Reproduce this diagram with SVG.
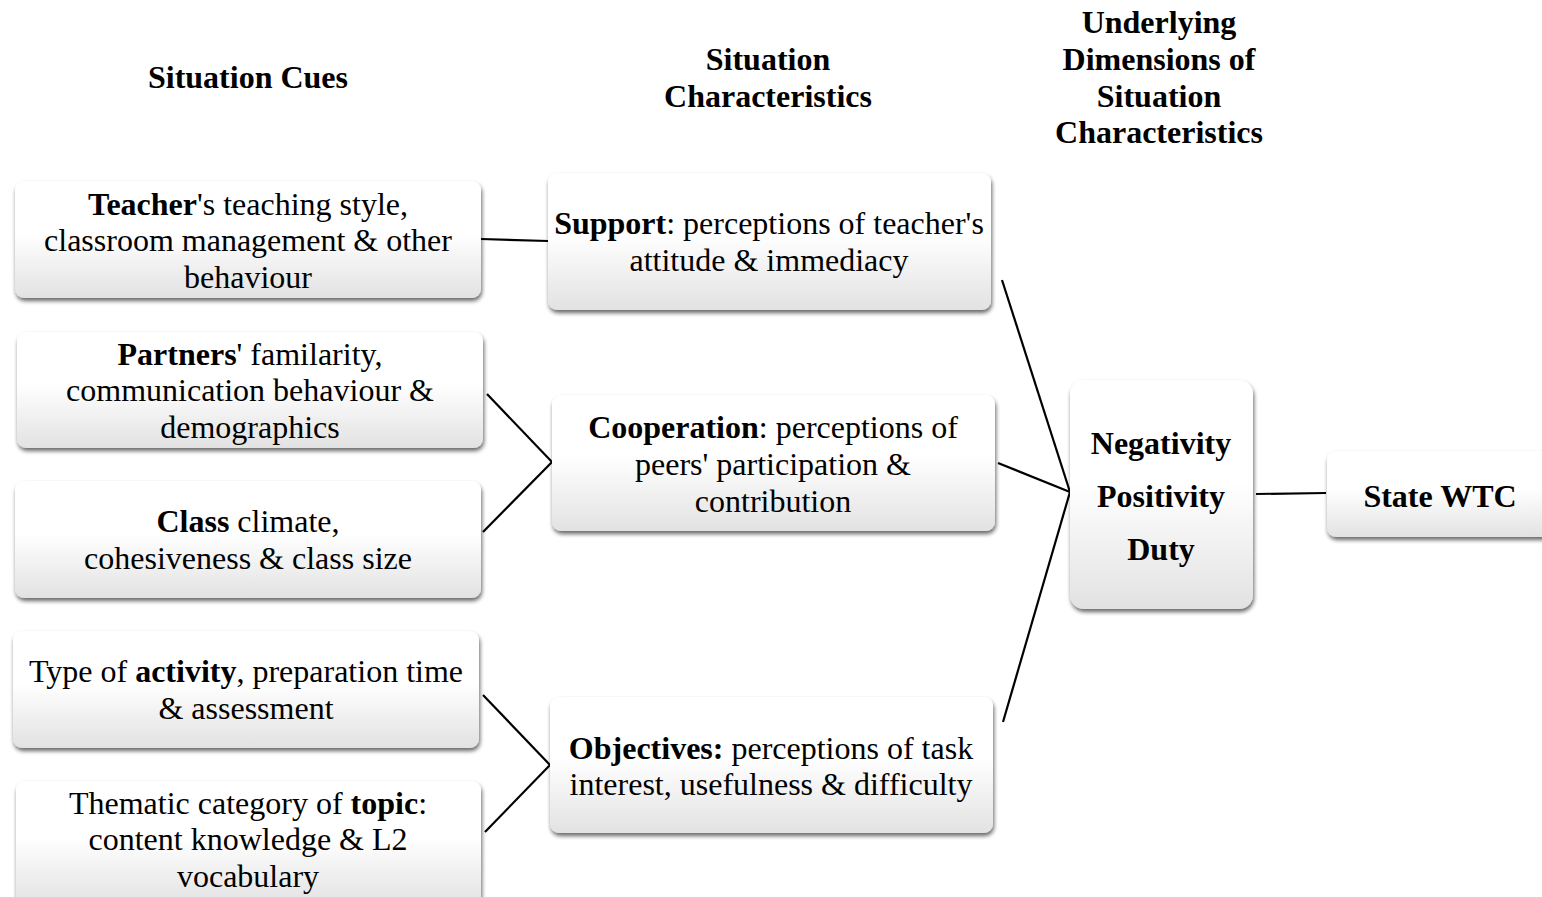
<svg xmlns="http://www.w3.org/2000/svg" width="1542" height="897" viewBox="0 0 1542 897">
<defs>
<linearGradient id="g" x1="0" y1="0" x2="0" y2="1">
<stop offset="0" stop-color="#ffffff"/>
<stop offset="0.45" stop-color="#ffffff"/>
<stop offset="1" stop-color="#e2e2e2"/>
</linearGradient>
<filter id="sh" x="-10%" y="-10%" width="120%" height="130%">
<feGaussianBlur in="SourceAlpha" stdDeviation="2"/>
<feOffset dx="1" dy="3" result="b"/>
<feComponentTransfer><feFuncA type="linear" slope="0.6"/></feComponentTransfer>
<feMerge><feMergeNode/><feMergeNode in="SourceGraphic"/></feMerge>
</filter>
</defs>
<style>
.box{fill:url(#g);filter:url(#sh);}
text{font-family:"Liberation Serif","Times New Roman",serif;font-size:32px;fill:#000;text-anchor:middle;}
.b{font-weight:bold;}
.c line{stroke:#000;stroke-width:2.2;}
</style>
<rect width="1542" height="897" fill="#fff"/>
<g id="headers">
<text class="b" x="248" y="88">Situation Cues</text>
<text class="b" x="768" y="70">Situation</text>
<text class="b" x="768" y="107">Characteristics</text>
<text class="b" x="1159" y="33">Underlying</text>
<text class="b" x="1159" y="70">Dimensions of</text>
<text class="b" x="1159" y="107">Situation</text>
<text class="b" x="1159" y="143">Characteristics</text>
</g>
<g class="c" id="connectors">
<line x1="481" y1="239" x2="548" y2="241"/>
<line x1="487" y1="394" x2="552" y2="462"/>
<line x1="483" y1="532" x2="552" y2="462"/>
<line x1="483" y1="695" x2="550" y2="765"/>
<line x1="485" y1="832" x2="550" y2="765"/>
<line x1="1002" y1="280" x2="1070" y2="492"/>
<line x1="998" y1="463" x2="1070" y2="492"/>
<line x1="1003" y1="722" x2="1070" y2="492"/>
<line x1="1256" y1="494" x2="1326" y2="493"/>
</g>
<g id="teacher">
<rect class="box" x="15" y="181" width="466" height="117" rx="9"/>
<text x="248" y="215"><tspan class="b">Teacher</tspan>'s teaching style,</text>
<text x="248" y="251">classroom management &amp; other</text>
<text x="248" y="288">behaviour</text>
</g>
<g id="partners">
<rect class="box" x="17" y="332" width="466" height="116" rx="9"/>
<text x="250" y="365"><tspan class="b">Partners</tspan>' familarity,</text>
<text x="250" y="401">communication behaviour &amp;</text>
<text x="250" y="438">demographics</text>
</g>
<g id="class">
<rect class="box" x="15" y="481" width="466" height="117" rx="9"/>
<text x="248" y="532"><tspan class="b">Class</tspan> climate,</text>
<text x="248" y="569">cohesiveness &amp; class size</text>
</g>
<g id="activity">
<rect class="box" x="13" y="631" width="466" height="117" rx="9"/>
<text x="246" y="682">Type of <tspan class="b">activity</tspan>, preparation time</text>
<text x="246" y="719">&amp; assessment</text>
</g>
<g id="topic">
<rect class="box" x="16" y="781" width="465" height="125" rx="9"/>
<text x="248" y="814">Thematic category of <tspan class="b">topic</tspan>:</text>
<text x="248" y="850">content knowledge &amp; L2</text>
<text x="248" y="887">vocabulary</text>
</g>
<g id="support">
<rect class="box" x="548" y="173" width="443" height="137" rx="9"/>
<text x="769" y="234"><tspan class="b">Support</tspan>: perceptions of teacher's</text>
<text x="769" y="271">attitude &amp; immediacy</text>
</g>
<g id="cooperation">
<rect class="box" x="552" y="395" width="443" height="136" rx="9"/>
<text x="773" y="438"><tspan class="b">Cooperation</tspan>: perceptions of</text>
<text x="773" y="475">peers' participation &amp;</text>
<text x="773" y="512">contribution</text>
</g>
<g id="objectives">
<rect class="box" x="550" y="697" width="443" height="136" rx="9"/>
<text x="771" y="759"><tspan class="b">Objectives:</tspan> perceptions of task</text>
<text x="771" y="795">interest, usefulness &amp; difficulty</text>
</g>
<g id="dimensions">
<rect class="box" x="1070" y="380" width="183" height="229" rx="14"/>
<text class="b" x="1161" y="454">Negativity</text>
<text class="b" x="1161" y="507">Positivity</text>
<text class="b" x="1161" y="560">Duty</text>
</g>
<g id="statewtc">
<rect class="box" x="1327" y="451" width="225" height="86" rx="9"/>
<text class="b" x="1440" y="507">State WTC</text>
</g>
</svg>
